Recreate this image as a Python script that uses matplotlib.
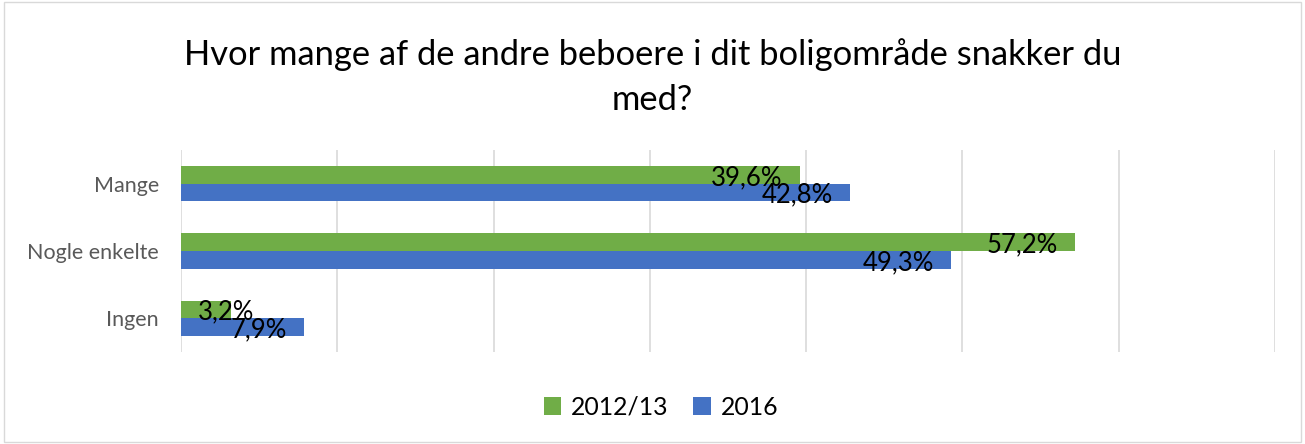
import matplotlib.pyplot as plt
import numpy as np
from matplotlib.patches import Rectangle

categories = ['Mange', 'Nogle enkelte', 'Ingen']
series_names = ['2012/13', '2016']
values_2012 = [39.6, 57.2, 3.2]
values_2016 = [42.8, 49.3, 7.9]
colors = ['#70AD47', '#4472C4']

plt.rcParams['font.family'] = ['Lato', 'DejaVu Sans']

fig = plt.figure(figsize=(13.05, 4.44), dpi=100)
# chart border
fig.patches.append(Rectangle((0.003, 0.005), 0.994, 0.99, transform=fig.transFigure,
                             fill=False, edgecolor='#D9D9D9', linewidth=1))

ax = fig.add_axes([181 / 1305, 1 - 352 / 444, (1275 - 181) / 1305, 202 / 444])

y = np.arange(len(categories))
h = 0.26
bars_a = ax.barh(y - h / 2, values_2012, height=h, color=colors[0], label=series_names[0], zorder=2)
bars_b = ax.barh(y + h / 2, values_2016, height=h, color=colors[1], label=series_names[1], zorder=2)

ax.set_xlim(0, 70)
ax.set_ylim(2.5, -0.5)
ax.set_xticks(np.arange(0, 71, 10))
ax.set_xticklabels([])
ax.tick_params(axis='x', length=0)
ax.tick_params(axis='y', length=0, pad=16, labelsize=15.5, labelcolor='#595959')
ax.set_yticks(y)
ax.set_yticklabels(categories)
ax.grid(axis='x', color='#D9D9D9', linewidth=1.2, zorder=0)
for s in ax.spines.values():
    s.set_visible(False)

pad = 1.1
for bars, vals in [(bars_a, values_2012), (bars_b, values_2016)]:
    for bar, v in zip(bars, vals):
        yc = bar.get_y() + bar.get_height() / 2 + 0.04
        txt = f'{v:.1f}%'.replace('.', ',')
        if v < 5:
            ax.text(pad, yc, txt, ha='left', va='center', fontsize=18.5, zorder=3)
        else:
            ax.text(v - pad, yc, txt, ha='right', va='center', fontsize=18.5, zorder=3)

fig.text(0.5, 1 - 55 / 444, 'Hvor mange af de andre beboere i dit boligområde snakker du',
         ha='center', va='center', fontsize=24.8, color='#000000')
fig.text(0.5, 1 - 100 / 444, 'med?', ha='center', va='center', fontsize=24.8, color='#000000')

fig.legend(loc='center', bbox_to_anchor=(661 / 1305, 1 - 407 / 444), ncol=2, frameon=False,
           fontsize=17.8, handlelength=0.7, handleheight=0.7, handletextpad=0.4, columnspacing=1.0)

fig.savefig('out.png', dpi=100)
